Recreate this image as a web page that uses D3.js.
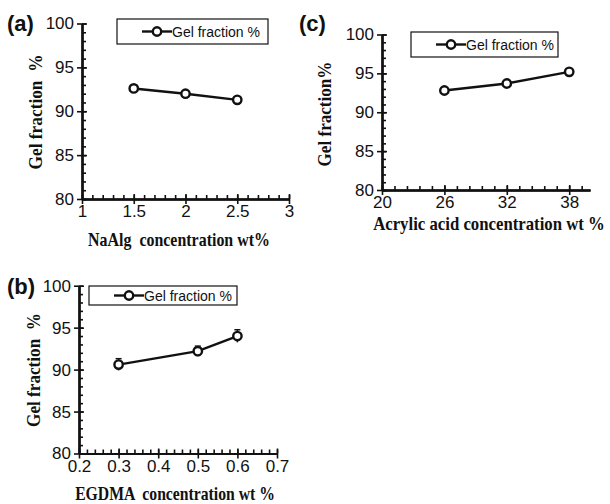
<!DOCTYPE html>
<html>
<head>
<meta charset="utf-8">
<script src="https://cdn.jsdelivr.net/npm/d3@7"></script>
<style>
  body { margin: 0; background: #fff; }
  svg { display: block; }
  .ttl { font-family: "Liberation Serif", "Times New Roman", serif; font-weight: bold; font-size: 18px; fill: #111; white-space: pre; }
  .lab { font-family: "Liberation Sans", Arial, sans-serif; font-weight: bold; font-size: 22px; fill: #111; }
  .leg { font-family: "Liberation Sans", Arial, sans-serif; font-size: 14px; fill: #111; }
</style>
</head>
<body>
<svg id="chart" width="610" height="504"></svg>
<script>
/* ---- data ---- */
const naalgX   = [1.5, 2, 2.5];
const naalgY   = [92.6, 92.0, 91.3];
const egdmaX   = [0.3, 0.5, 0.6];
const egdmaY   = [90.6, 92.2, 94.0];
const egdmaErr = [0.7, 0.6, 0.75];
const acrylX   = [26, 32, 38];
const acrylY   = [92.8, 93.7, 95.2];

const yTicks      = [80, 85, 90, 95, 100];
const naalgTicks  = [1, 1.5, 2, 2.5, 3];
const egdmaTicks  = [0.2, 0.3, 0.4, 0.5, 0.6, 0.7];
const acrylTicks  = [20, 26, 32, 38];

const svg = d3.select("#chart");

/* panel geometry (pixels) */
const panels = [
  { id: "(a)", xs: naalgX, ys: naalgY, err: null,
    xDom: [1, 3], xRange: [82, 289], yRange: [199, 23.5],
    xTicks: naalgTicks, xMinor: 0.1, xFmt: d3.format(""),
    xTitle: "NaAlg  concentration wt%", xTitleAt: [179, 246], xLen: 182,
    yTitle: "Gel fraction  %", yTitleAt: [42, 112], yLen: 115,
    labAt: [7, 31], leg: { x: 117, y: 19, w: 151, h: 25 } },
  { id: "(b)", xs: egdmaX, ys: egdmaY, err: egdmaErr,
    xDom: [0.2, 0.7], xRange: [79, 277], yRange: [453.5, 285.7],
    xTicks: egdmaTicks, xMinor: 0.02, xFmt: d3.format(".1f"),
    xTitle: "EGDMA  concentration wt %", xTitleAt: [175, 500], xLen: 200,
    yTitle: "Gel fraction  %", yTitleAt: [40, 370], yLen: 114,
    labAt: [7, 294], leg: { x: 89, y: 286, w: 148, h: 19 } },
  { id: "(c)", xs: acrylX, ys: acrylY, err: null,
    xDom: [20, 40], xRange: [382, 590], yRange: [190, 34.5],
    xTicks: acrylTicks, xMinor: 1.2, xFmt: d3.format(""),
    xTitle: "Acrylic acid concentration wt %", xTitleAt: [489, 230], xLen: 232,
    yTitle: "Gel fraction%", yTitleAt: [331, 114], yLen: 105,
    labAt: [299, 31], leg: { x: 411, y: 32, w: 147, h: 25 } }
];

// squeeze a title horizontally so it spans the width measured on the figure
function fitTitle(sel, len, cx, cy, rot) {
  const w = sel.node().getComputedTextLength();
  const sx = len / w;
  sel.attr("transform", `translate(${cx},${cy}) rotate(${rot}) scale(${sx},1)`);
}

function drawPanel(p) {
  const g = svg.append("g");
  const x = d3.scaleLinear().domain(p.xDom).range(p.xRange);
  const y = d3.scaleLinear().domain([80, 100]).range(p.yRange);
  const x0 = p.xRange[0], y0 = p.yRange[0];

  const minorX = d3.range(p.xDom[0], p.xDom[1] + 1e-9, p.xMinor);
  const minorY = d3.range(80, 100.001, 1);

  // y axis: labelled major ticks crossing the line, minor ticks inside
  g.append("g").attr("transform", `translate(${x0},0)`)
    .call(d3.axisRight(y).tickValues(minorY).tickSize(4).tickFormat("").tickSizeOuter(0));
  g.append("g").attr("transform", `translate(${x0},0)`)
    .call(d3.axisRight(y).tickValues(yTicks).tickSize(5).tickFormat("").tickSizeOuter(0));
  g.append("g").attr("transform", `translate(${x0},0)`)
    .call(d3.axisLeft(y).tickValues(yTicks).tickSize(5).tickPadding(3).tickSizeOuter(0));

  // x axis
  g.append("g").attr("transform", `translate(0,${y0})`)
    .call(d3.axisTop(x).tickValues(minorX).tickSize(4).tickFormat("").tickSizeOuter(0));
  g.append("g").attr("transform", `translate(0,${y0})`)
    .call(d3.axisTop(x).tickValues(p.xTicks).tickSize(5).tickFormat("").tickSizeOuter(0));
  g.append("g").attr("transform", `translate(0,${y0})`)
    .call(d3.axisBottom(x).tickValues(p.xTicks).tickSize(5).tickPadding(1).tickFormat(p.xFmt).tickSizeOuter(0));

  g.selectAll(".domain").attr("stroke", "#111").attr("stroke-width", 2);
  g.selectAll(".tick line").attr("stroke", "#111").attr("stroke-width", 1.6);
  g.selectAll(".tick text")
    .style("font-family", "'Liberation Sans', Arial, sans-serif")
    .style("font-size", "17px").attr("fill", "#111");

  const pts = p.xs.map((v, i) => ({ x: v, y: p.ys[i], e: p.err ? p.err[i] : 0 }));

  // error bars
  if (p.err) {
    const eb = g.selectAll("g.eb").data(pts).join("g").attr("class", "eb");
    eb.append("line")
      .attr("x1", d => x(d.x)).attr("x2", d => x(d.x))
      .attr("y1", d => y(d.y - d.e)).attr("y2", d => y(d.y + d.e))
      .attr("stroke", "#111").attr("stroke-width", 1.5);
    eb.append("line")
      .attr("x1", d => x(d.x) - 3).attr("x2", d => x(d.x) + 3)
      .attr("y1", d => y(d.y + d.e)).attr("y2", d => y(d.y + d.e))
      .attr("stroke", "#111").attr("stroke-width", 1.5);
  }

  g.append("path").datum(pts)
    .attr("fill", "none").attr("stroke", "#111").attr("stroke-width", 2.4)
    .attr("d", d3.line().x(d => x(d.x)).y(d => y(d.y)));

  g.selectAll("circle.pt").data(pts).join("circle").attr("class", "pt")
    .attr("cx", d => x(d.x)).attr("cy", d => y(d.y)).attr("r", 4.2)
    .attr("fill", "#fff").attr("stroke", "#111").attr("stroke-width", 2.4);

  // titles
  const xt = g.append("text").attr("class", "ttl")
    .attr("text-anchor", "middle").text(p.xTitle);
  fitTitle(xt, p.xLen, p.xTitleAt[0], p.xTitleAt[1], 0);
  const yt = g.append("text").attr("class", "ttl")
    .attr("text-anchor", "middle").text(p.yTitle);
  fitTitle(yt, p.yLen, p.yTitleAt[0], p.yTitleAt[1], -90);
  g.append("text").attr("class", "lab")
    .attr("x", p.labAt[0]).attr("y", p.labAt[1]).text(p.id);

  // legend
  const L = p.leg;
  const lg = g.append("g").attr("transform", `translate(${L.x},${L.y})`);
  lg.append("rect").attr("width", L.w).attr("height", L.h)
    .attr("fill", "#fff").attr("stroke", "#111").attr("stroke-width", 1.2);
  const my = L.h / 2;
  lg.append("line").attr("x1", 25).attr("x2", 55).attr("y1", my).attr("y2", my)
    .attr("stroke", "#111").attr("stroke-width", 2.4);
  lg.append("circle").attr("cx", 40).attr("cy", my).attr("r", 4.2)
    .attr("fill", "#fff").attr("stroke", "#111").attr("stroke-width", 2.4);
  lg.append("text").attr("class", "leg").attr("x", 55).attr("y", my + 5).text("Gel fraction %");
}

panels.forEach(drawPanel);
</script>
</body>
</html>
